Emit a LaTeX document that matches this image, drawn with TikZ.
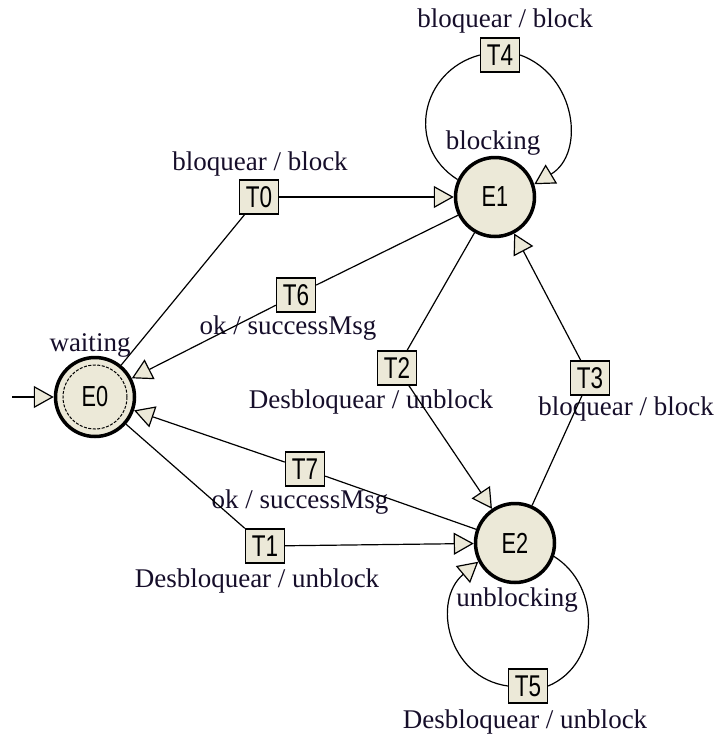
\documentclass[tikz,border=0pt]{standalone}
\usepackage{fontspec}
\setmainfont{Liberation Serif}
\newfontfamily\boxfont[FakeStretch=0.75]{Liberation Sans}
\usetikzlibrary{arrows.meta}
\definecolor{stfill}{RGB}{236,233,216}
\definecolor{lbl}{RGB}{22,14,42}
\begin{document}
\begin{tikzpicture}[x=1pt,y=1pt,
  state/.style={circle,draw=black,line width=3.5pt,fill=stfill,minimum size=79pt,inner sep=0pt,font=\boxfont\fontsize{29}{29}\selectfont},
  trans/.style={rectangle,draw=black,line width=1.4pt,fill=stfill,minimum width=39pt,minimum height=34pt,inner sep=0pt,font=\boxfont\fontsize{30}{30}\selectfont},
  lab/.style={text=lbl,font=\fontsize{27}{30}\selectfont,inner sep=0pt},
  conn/.style={draw=black,line width=1.2pt},
  arr/.style={conn,-{Triangle[length=20pt,width=22pt,fill=stfill]}},
]
\useasboundingbox (0,0) rectangle (720,-737);
% states
\node[state] (E0) at (95,-397) {E0};
\node[circle,draw=black,dash pattern=on 3pt off 1.5pt,line width=1pt,minimum size=64pt,inner sep=0pt] (E0in) at (E0) {};
\node[state] (E1) at (495,-197) {E1};
\node[state] (E2) at (515,-543) {E2};
% transitions
\node[trans] (T0) at (259,-197) {T0};
\node[trans] (T1) at (265,-546) {T1};
\node[trans] (T2) at (397,-368) {T2};
\node[trans] (T3) at (590,-378) {T3};
\node[trans] (T4) at (500,-55) {T4};
\node[trans] (T5) at (528,-686) {T5};
\node[trans] (T6) at (296,-295) {T6};
\node[trans] (T7) at (305,-469) {T7};
% labels
\node[lab] (L0) at (260,-164) {bloquear / block};
\node[lab] (L4) at (505,-21) {bloquear / block};
\node[lab] (L6) at (288,-328) {ok / successMsg};
\node[lab] (L2) at (371,-402) {Desbloquear / unblock};
\node[lab] (L7) at (300,-502) {ok / successMsg};
\node[lab] (L1) at (257,-581) {Desbloquear / unblock};
\node[lab] (L3) at (626,-409) {bloquear / block};
\node[lab] (L5) at (525,-722) {Desbloquear / unblock};
\node[lab] (Lw) at (90,-345) {waiting};
\node[lab] (Lb) at (493,-143) {blocking};
\node[lab] (Lu) at (517,-600) {unblocking};
% connectors
\coordinate (init) at (12,-397);
\draw[arr] (init) -- (E0);
\draw[conn] (E0) -- (T0); \draw[arr] (T0) -- (E1);
\draw[conn] (E1) -- (T6); \draw[arr] (T6) -- (E0);
\draw[conn] (E1) -- (T2); \draw[arr] (T2) -- (E2);
\draw[conn] (E2) -- (T3); \draw[arr] (T3) -- (E1);
\draw[conn] (E0) -- (T1); \draw[arr] (T1) -- (E2);
\draw[conn] (E2) -- (T7); \draw[arr] (T7) -- (E0);
\draw[conn] (E1.155) to[out=148,in=195,looseness=1.25] (T4.west);
\draw[arr] (T4.east) to[out=-20,in=31,looseness=1.18] (E1.18);
\draw[conn] (E2.-19) to[out=-32,in=23,looseness=1.11] (T5.east);
\draw[arr] (T5.west) to[out=172,in=220,looseness=1.22] (E2.207);
\end{tikzpicture}
\end{document}
